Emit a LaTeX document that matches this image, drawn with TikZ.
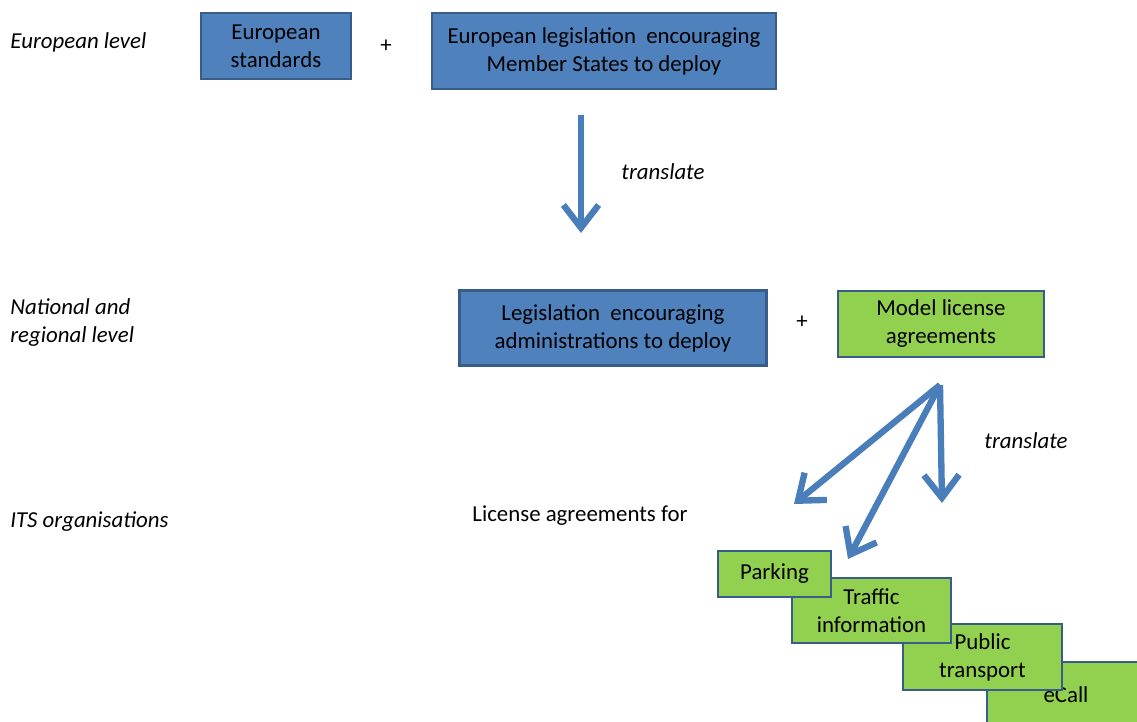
\documentclass[tikz,border=0pt]{standalone}
\usepackage{fontspec}
\setmainfont{Carlito}
\usepackage{tikz}
\usepackage{xcolor}
\usetikzlibrary{arrows.meta,positioning}

\definecolor{boxblue}{HTML}{4F81BD}
\definecolor{boxgreen}{HTML}{92D050}
\definecolor{boxedge}{HTML}{385D8A}
\definecolor{flowblue}{HTML}{4A7EBB}

\begin{document}
\begin{tikzpicture}[x=0.02cm,y=-0.02cm,
  font=\fontsize{13pt}{15.9pt}\selectfont,
  bluebox/.style={draw=boxedge,fill=boxblue,line width=1.6pt,align=center,inner sep=0pt},
  greenbox/.style={draw=boxedge,fill=boxgreen,line width=1.6pt,align=center,inner sep=0pt},
  levelname/.style={font=\fontsize{13pt}{15.9pt}\selectfont\itshape,align=left,anchor=west,inner sep=0pt},
  note/.style={font=\fontsize{13pt}{15.9pt}\selectfont\itshape,inner sep=0pt},
  flow/.style={flowblue,line width=3.6pt,-{Straight Barb[length=13pt,width=20pt]}}]
  \useasboundingbox (0,0) rectangle (1137,722);
  \clip (0,0) rectangle (1137,722);

  % levels
  \node[levelname] (lvleu) at (10,42) {European level};
  \node[levelname] (lvlnat) at (10,323) {National and\\regional level};
  \node[levelname] (lvlits) at (10,522) {ITS organisations};

  % european level
  \node[bluebox,minimum width=3cm,minimum height=1.32cm] (eustd) at (276,46) {European\\standards};
  \node (plusa) at (386,46) {+};
  \node[bluebox,minimum width=6.88cm,minimum height=1.52cm] (eulaw) at (604,51) {European legislation~ encouraging\\Member States to deploy};

  \coordinate (ta) at (581,115);
  \coordinate (ha) at (581,233);
  \draw[flow] (ta) -- (ha);
  \node[note] (trana) at (663,172) {translate};

  % national level
  \node[bluebox,minimum width=6.14cm,minimum height=1.5cm] (natlaw) at (613,328) {Legislation~ encouraging\\administrations to deploy};
  \node (plusb) at (802,322) {+};
  \node[greenbox,minimum width=4.12cm,minimum height=1.32cm] (model) at (941,324) {Model license\\agreements};

  \coordinate (fork) at (940,385);
  \coordinate (hb) at (794,504);
  \coordinate (hc) at (848,559);
  \coordinate (hd) at (942,503);
  \draw[flow] (fork) -- (hb);
  \draw[flow] (fork) -- (hc);
  \draw[flow] (fork) -- (hd);
  \node[note] (tranb) at (1026,441) {translate};

  % ITS organisations
  \node[inner sep=0pt] (licfor) at (580,516) {License agreements for};
  \node[greenbox,minimum width=3.16cm,minimum height=1.32cm] (ecall) at (1066,695) {eCall};
  \node[greenbox,minimum width=3.18cm,minimum height=1.32cm] (pubtr) at (982.5,657) {Public\\transport};
  \node[greenbox,minimum width=3.18cm,minimum height=1.3cm] (traffic) at (871.5,610.5) {Traffic\\information};
  \node[greenbox,minimum width=2.26cm,minimum height=0.92cm] (parking) at (774.5,574) {Parking};
\end{tikzpicture}
\end{document}
